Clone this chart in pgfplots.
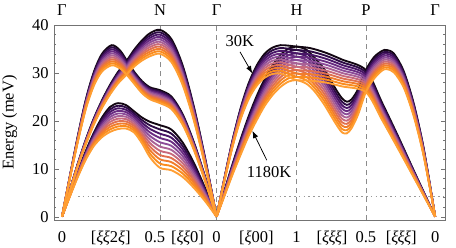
\documentclass[border=0pt]{standalone}
\usepackage{fontspec}
\setmainfont{Liberation Serif}
\usepackage{pgfplots}
\usepackage{pgfplotstable}
\pgfplotsset{compat=1.18}
\usetikzlibrary{arrows.meta}
\definecolor{tc0}{HTML}{120612}
\definecolor{tc1}{HTML}{2D0B45}
\definecolor{tc2}{HTML}{4A1668}
\definecolor{tc3}{HTML}{6A2C82}
\definecolor{tc4}{HTML}{8C4C98}
\definecolor{tc5}{HTML}{AA6296}
\definecolor{tc6}{HTML}{C86A7C}
\definecolor{tc7}{HTML}{E0704F}
\definecolor{tc8}{HTML}{F17D2C}
\definecolor{tc9}{HTML}{FA8C1E}
\definecolor{tc10}{HTML}{FF9E33}

% branch 1 (Gamma-N-Gamma), columns: 30K ... 1180K
\pgfplotstableread{
x t0 t1 t2 t3 t4 t5 t6 t7 t8 t9 t10
0 0 0 0 0 0 0 0 0 0 0 0
0.1 8.6 8.55 8.5 8.45 8.4 8.35 8.3 8.25 8.2 8.15 8.1
0.2 17.0 16.88 16.76 16.64 16.52 16.4 16.28 16.16 16.04 15.92 15.8
0.3 24.6 24.4 24.2 24.0 23.8 23.6 23.4 23.2 23.0 22.8 22.6
0.4 30.3 30.01 29.72 29.43 29.14 28.85 28.56 28.27 27.98 27.69 27.4
0.5 34.0 33.63 33.26 32.89 32.52 32.15 31.78 31.41 31.04 30.67 30.3
0.62 35.8 35.38 34.96 34.54 34.12 33.7 33.28 32.86 32.44 32.02 31.6
0.72 34.8 34.42 34.04 33.66 33.28 32.9 32.52 32.14 31.76 31.38 31.0
0.81 32.6 32.3 32.0 31.7 31.4 31.1 30.8 30.5 30.2 29.9 29.6
0.9 30.3 30.05 29.8 29.55 29.3 29.05 28.8 28.55 28.3 28.05 27.8
1.0 28.3 28.05 27.8 27.55 27.3 27.05 26.8 26.55 26.3 26.05 25.8
1.1 27.0 26.75 26.5 26.25 26.0 25.75 25.5 25.25 25.0 24.75 24.5
1.2247 26.4 26.13 25.86 25.59 25.32 25.05 24.78 24.51 24.24 23.97 23.7
1.3661 25.1 24.84 24.58 24.32 24.06 23.8 23.54 23.28 23.02 22.76 22.5
1.5075 21.4 21.18 20.96 20.74 20.52 20.3 20.08 19.86 19.64 19.42 19.2
1.649 15.5 15.34 15.18 15.02 14.86 14.7 14.54 14.38 14.22 14.06 13.9
1.7904 8.2 8.11 8.02 7.93 7.84 7.75 7.66 7.57 7.48 7.39 7.3
1.9318 0 0 0 0 0 0 0 0 0 0 0
}\tA

% branch 2 (Gamma-N-Gamma)
\pgfplotstableread{
x t0 t1 t2 t3 t4 t5 t6 t7 t8 t9 t10
0 0 0 0 0 0 0 0 0 0 0 0
0.1 5.7 5.67 5.64 5.61 5.58 5.55 5.52 5.49 5.46 5.43 5.4
0.2 11.2 11.14 11.08 11.02 10.96 10.9 10.84 10.78 10.72 10.66 10.6
0.3 16.2 16.1 16.0 15.9 15.8 15.7 15.6 15.5 15.4 15.3 15.2
0.4 20.6 20.47 20.34 20.21 20.08 19.95 19.82 19.69 19.56 19.43 19.3
0.5 24.3 24.14 23.98 23.82 23.66 23.5 23.34 23.18 23.02 22.86 22.7
0.6 27.5 27.3 27.1 26.9 26.7 26.5 26.3 26.1 25.9 25.7 25.5
0.7 30.2 29.96 29.72 29.48 29.24 29.0 28.76 28.52 28.28 28.04 27.8
0.81 32.6 32.31 32.02 31.73 31.44 31.15 30.86 30.57 30.28 29.99 29.7
0.9 34.8 34.45 34.1 33.75 33.4 33.05 32.7 32.35 32.0 31.65 31.3
1.0 36.8 36.38 35.96 35.54 35.12 34.7 34.28 33.86 33.44 33.02 32.6
1.1 38.3 37.82 37.34 36.86 36.38 35.9 35.42 34.94 34.46 33.98 33.5
1.2247 39.0 38.5 38.0 37.5 37.0 36.5 36.0 35.5 35.0 34.5 34.0
1.3661 37.1 36.62 36.14 35.66 35.18 34.7 34.22 33.74 33.26 32.78 32.3
1.5075 31.6 31.19 30.78 30.37 29.96 29.55 29.14 28.73 28.32 27.91 27.5
1.649 22.9 22.61 22.32 22.03 21.74 21.45 21.16 20.87 20.58 20.29 20.0
1.7904 12.1 11.94 11.78 11.62 11.46 11.3 11.14 10.98 10.82 10.66 10.5
1.9318 0 0 0 0 0 0 0 0 0 0 0
}\tB

% branch 3 (Gamma-N-Gamma)
\pgfplotstableread{
x t0 t1 t2 t3 t4 t5 t6 t7 t8 t9 t10
0 0 0 0 0 0 0 0 0 0 0 0
0.1 4.8 4.75 4.7 4.65 4.6 4.55 4.5 4.45 4.4 4.35 4.3
0.2 9.5 9.39 9.28 9.17 9.06 8.95 8.84 8.73 8.62 8.51 8.4
0.3 13.8 13.62 13.44 13.26 13.08 12.9 12.72 12.54 12.36 12.18 12.0
0.4 17.6 17.32 17.04 16.76 16.48 16.2 15.92 15.64 15.36 15.08 14.8
0.5 20.7 20.29 19.88 19.47 19.06 18.65 18.24 17.83 17.42 17.01 16.6
0.6 22.9 22.38 21.86 21.34 20.82 20.3 19.78 19.26 18.74 18.22 17.7
0.7 23.7 23.16 22.62 22.08 21.54 21.0 20.46 19.92 19.38 18.84 18.3
0.8 23.3 22.81 22.32 21.83 21.34 20.85 20.36 19.87 19.38 18.89 18.4
0.9 22.0 21.56 21.12 20.68 20.24 19.8 19.36 18.92 18.48 18.04 17.6
1.0 20.7 20.16 19.62 19.08 18.54 18.0 17.46 16.92 16.38 15.84 15.3
1.1 19.8 19.06 18.32 17.58 16.84 16.1 15.36 14.62 13.88 13.14 12.4
1.2247 19.1 18.21 17.32 16.43 15.54 14.65 13.76 12.87 11.98 11.09 10.2
1.3661 18.2 17.35 16.5 15.65 14.8 13.95 13.1 12.25 11.4 10.55 9.7
1.5075 15.5 14.78 14.06 13.34 12.62 11.9 11.18 10.46 9.74 9.02 8.3
1.649 11.2 10.68 10.16 9.64 9.12 8.6 8.08 7.56 7.04 6.52 6.0
1.7904 5.9 5.63 5.36 5.09 4.82 4.55 4.28 4.01 3.74 3.47 3.2
1.9318 0 0 0 0 0 0 0 0 0 0 0
}\tC

% branch 4 (Gamma-H-P-Gamma)
\pgfplotstableread{
x t0 t1 t2 t3 t4 t5 t6 t7 t8 t9 t10
1.9318 0 0 0 0 0 0 0 0 0 0 0
2.0318 5.5 5.39 5.28 5.17 5.06 4.95 4.84 4.73 4.62 4.51 4.4
2.1318 11.0 10.78 10.56 10.34 10.12 9.9 9.68 9.46 9.24 9.02 8.8
2.2318 16.1 15.78 15.46 15.14 14.82 14.5 14.18 13.86 13.54 13.22 12.9
2.3318 20.9 20.49 20.08 19.67 19.26 18.85 18.44 18.03 17.62 17.21 16.8
2.4318 25.1 24.6 24.1 23.6 23.1 22.6 22.1 21.6 21.1 20.6 20.1
2.5318 28.7 28.14 27.58 27.02 26.46 25.9 25.34 24.78 24.22 23.66 23.1
2.6318 31.6 30.98 30.36 29.74 29.12 28.5 27.88 27.26 26.64 26.02 25.4
2.7318 33.8 33.13 32.46 31.79 31.12 30.45 29.78 29.11 28.44 27.77 27.1
2.8318 35.1 34.41 33.72 33.03 32.34 31.65 30.96 30.27 29.58 28.89 28.2
2.9318 35.5 34.8 34.1 33.4 32.7 32.0 31.3 30.6 29.9 29.2 28.5
3.05 34.9 34.19 33.48 32.77 32.06 31.35 30.64 29.93 29.22 28.51 27.8
3.15 33.3 32.6 31.9 31.2 30.5 29.8 29.1 28.4 27.7 27.0 26.3
3.27 31.0 30.26 29.52 28.78 28.04 27.3 26.56 25.82 25.08 24.34 23.6
3.35 28.7 27.97 27.24 26.51 25.78 25.05 24.32 23.59 22.86 22.13 21.4
3.43 26.4 25.68 24.96 24.24 23.52 22.8 22.08 21.36 20.64 19.92 19.2
3.50 24.7 23.99 23.28 22.57 21.86 21.15 20.44 19.73 19.02 18.31 17.6
3.56 24.0 23.34 22.68 22.02 21.36 20.7 20.04 19.38 18.72 18.06 17.4
3.62 24.5 23.9 23.3 22.7 22.1 21.5 20.9 20.3 19.7 19.1 18.5
3.70 26.6 26.07 25.54 25.01 24.48 23.95 23.42 22.89 22.36 21.83 21.3
3.7979 30.6 30.14 29.68 29.22 28.76 28.3 27.84 27.38 26.92 26.46 26.0
3.90 33.3 32.85 32.4 31.95 31.5 31.05 30.6 30.15 29.7 29.25 28.8
4.00 34.6 34.19 33.78 33.37 32.96 32.55 32.14 31.73 31.32 30.91 30.5
4.06 34.8 34.4 34.0 33.6 33.2 32.8 32.4 32.0 31.6 31.2 30.8
4.15 34.0 33.61 33.22 32.83 32.44 32.05 31.66 31.27 30.88 30.49 30.1
4.27 30.4 30.06 29.72 29.38 29.04 28.7 28.36 28.02 27.68 27.34 27.0
4.39 24.0 23.73 23.46 23.19 22.92 22.65 22.38 22.11 21.84 21.57 21.3
4.50 16.0 15.82 15.64 15.46 15.28 15.1 14.92 14.74 14.56 14.38 14.2
4.58 8.5 8.41 8.32 8.23 8.14 8.05 7.96 7.87 7.78 7.69 7.6
4.6639 0 0 0 0 0 0 0 0 0 0 0
}\tD

% branch 5 (Gamma-H-P-Gamma)
\pgfplotstableread{
x t0 t1 t2 t3 t4 t5 t6 t7 t8 t9 t10
1.9318 0 0 0 0 0 0 0 0 0 0 0
2.0318 8.2 8.14 8.08 8.02 7.96 7.9 7.84 7.78 7.72 7.66 7.6
2.1318 16.0 15.86 15.72 15.58 15.44 15.3 15.16 15.02 14.88 14.74 14.6
2.2318 22.6 22.37 22.14 21.91 21.68 21.45 21.22 20.99 20.76 20.53 20.3
2.3318 27.8 27.47 27.14 26.81 26.48 26.15 25.82 25.49 25.16 24.83 24.5
2.4318 31.5 31.08 30.66 30.24 29.82 29.4 28.98 28.56 28.14 27.72 27.3
2.5318 34.0 33.5 33.0 32.5 32.0 31.5 31.0 30.5 30.0 29.5 29.0
2.6318 35.3 34.75 34.2 33.65 33.1 32.55 32.0 31.45 30.9 30.35 29.8
2.7318 35.8 35.21 34.62 34.03 33.44 32.85 32.26 31.67 31.08 30.49 29.9
2.8318 35.7 35.05 34.4 33.75 33.1 32.45 31.8 31.15 30.5 29.85 29.2
2.9318 35.5 34.8 34.1 33.4 32.7 32.0 31.3 30.6 29.9 29.2 28.5
3.10 35.2 34.52 33.84 33.16 32.48 31.8 31.12 30.44 29.76 29.08 28.4
3.30 34.2 33.58 32.96 32.34 31.72 31.1 30.48 29.86 29.24 28.62 28.0
3.50 32.8 32.24 31.68 31.12 30.56 30.0 29.44 28.88 28.32 27.76 27.2
3.7979 30.6 30.14 29.68 29.22 28.76 28.3 27.84 27.38 26.92 26.46 26.0
4.00 23.8 23.44 23.08 22.72 22.36 22.0 21.64 21.28 20.92 20.56 20.2
4.20 16.8 16.54 16.28 16.02 15.76 15.5 15.24 14.98 14.72 14.46 14.2
4.40 9.5 9.36 9.22 9.08 8.94 8.8 8.66 8.52 8.38 8.24 8.1
4.6639 0 0 0 0 0 0 0 0 0 0 0
}\tE

\begin{document}
\begin{tikzpicture}[font=\fontsize{11}{13}\selectfont]
\begin{axis}[
  width=260.7pt, height=130pt, scale only axis,
  xmin=-0.1, xmax=4.7875, ymin=-0.7, ymax=40,
  clip=false,
  axis line style={black!55},
  tick style={black!55},
  tick align=inside,
  ytick pos=both,
  xtick pos=bottom,
  ytick={0,10,20,30,40},
  minor y tick num=4,
  major tick length=3pt,
  minor tick length=1.6pt,
  xtick={0,0.61,1.16,1.569,1.9318,2.429,2.9318,3.375,3.7979,4.24,4.6639},
  xticklabels={0,{[\textit{ξξ}2\textit{ξ}]},0.5,{[\textit{ξξ}0]},0,{[\textit{ξ}00]},1,{[\textit{ξξξ}]},0.5,{[\textit{ξξξ}]},0},
  x tick style={draw=none},
  xticklabel style={anchor=base, yshift=-14.7pt},
  /pgf/number format/assume math mode=true,
  ylabel={Energy (meV)},
  ylabel style={at={(axis description cs:-0.1132,0.5)}, anchor=center},
]
\coordinate (BL) at (rel axis cs:0,0);
\coordinate (TR) at (rel axis cs:1,1);
% reference lines
\addplot[forget plot, black!40, line width=0.5pt, dash pattern=on 1pt off 2.2pt] coordinates {(0.2,4.2) (4.7875,4.2)};
\addplot[forget plot, black!45, line width=0.5pt, dash pattern=on 3.3pt off 2.7pt] coordinates {(1.2247,-0.7) (1.2247,40)};
\addplot[forget plot, black!45, line width=0.5pt, dash pattern=on 3.3pt off 2.7pt] coordinates {(1.9318,-0.7) (1.9318,40)};
\addplot[forget plot, black!45, line width=0.5pt, dash pattern=on 3.3pt off 2.7pt] coordinates {(2.9318,-0.7) (2.9318,40)};
\addplot[forget plot, black!45, line width=0.5pt, dash pattern=on 3.3pt off 2.7pt] coordinates {(3.7979,-0.7) (3.7979,40)};
% dispersion curves, 30 K (dark) to 1180 K (orange)
\pgfplotsinvokeforeach{0,...,10}{
  \addplot[forget plot, smooth, line width=1.25pt, color=tc#1] table[x=x, y=t#1]{\tA};
  \addplot[forget plot, smooth, line width=1.25pt, color=tc#1] table[x=x, y=t#1]{\tB};
  \addplot[forget plot, smooth, line width=1.25pt, color=tc#1] table[x=x, y=t#1]{\tC};
  \addplot[forget plot, smooth, line width=1.25pt, color=tc#1] table[x=x, y=t#1]{\tD};
  \addplot[forget plot, smooth, line width=1.25pt, color=tc#1] table[x=x, y=t#1]{\tE};
}
% high-symmetry labels
\node[anchor=base, yshift=6.7pt] at (axis cs:0,40) {Γ};
\node[anchor=base, yshift=6.7pt] at (axis cs:1.2247,40) {N};
\node[anchor=base, yshift=6.7pt] at (axis cs:1.9318,40) {Γ};
\node[anchor=base, yshift=6.7pt] at (axis cs:2.9318,40) {H};
\node[anchor=base, yshift=6.7pt] at (axis cs:3.7979,40) {P};
\node[anchor=base, yshift=6.7pt] at (axis cs:4.6639,40) {Γ};
% annotations
\node at (axis cs:2.221,36.7) {30K};
\draw[-{Latex[length=5pt,width=3.6pt]}, line width=0.5pt] (axis cs:2.225,34.4) -- (axis cs:2.379,29.9);
\node at (axis cs:2.5875,9.4) {1180K};
\draw[-{Latex[length=5pt,width=3.6pt]}, line width=0.5pt] (axis cs:2.559,11.8) -- (axis cs:2.379,17.95);
\end{axis}
\pgfresetboundingbox
\path[use as bounding box] ([shift={(-36pt,-18pt)}]BL) rectangle ([shift={(7.3pt,16.7pt)}]TR);
\end{tikzpicture}
\end{document}
